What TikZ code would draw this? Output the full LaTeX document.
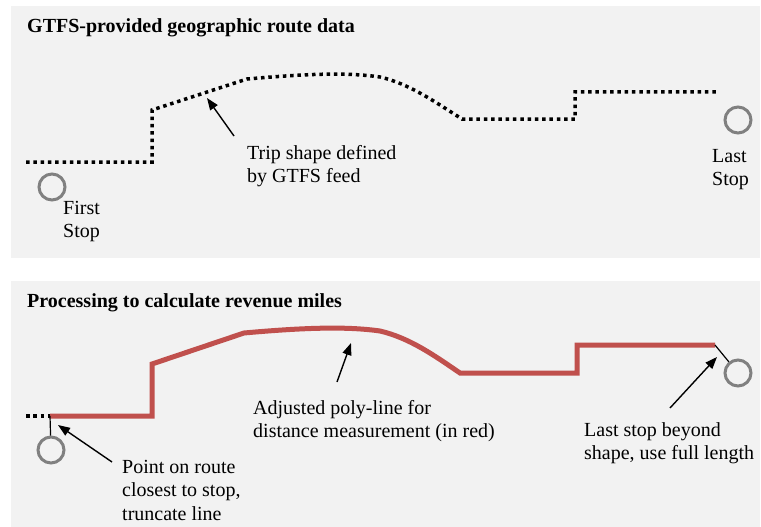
\documentclass[tikz,border=0pt]{standalone}
\usepackage{fontspec}
\setmainfont{Liberation Serif}
\usepackage{tikz}
\usetikzlibrary{arrows.meta}
\definecolor{panelgray}{HTML}{F2F2F2}
\definecolor{routered}{HTML}{C0504D}
\definecolor{stopgray}{HTML}{808080}
\tikzstyle{panel} = [fill=panelgray, draw=none]
\tikzstyle{paneltitle} = [font=\fontsize{20}{23}\selectfont\bfseries, anchor=base west, inner sep=0pt]
\tikzstyle{note} = [font=\fontsize{20}{23.5}\selectfont, align=left, anchor=north west, inner sep=0pt]
\tikzstyle{stopmark} = [circle, draw=stopgray, line width=3pt, minimum size=26pt, inner sep=0pt]
\tikzstyle{tripline} = [line width=3.5pt, dash pattern=on 3.5pt off 3.8pt]
\tikzstyle{adjusted} = [line width=5pt, draw=routered]
\tikzstyle{arrow} = [line width=1.4pt, -{Triangle[length=12pt,width=9pt]}]

\begin{document}
\begin{tikzpicture}[x=1pt, y=-1pt]
  \useasboundingbox (0,0) rectangle (761,527);

  % upper panel: route as given by the feed
  \fill [panel] (11,6) rectangle (760,258);
  \node (title-gtfs) [paneltitle] at (27,33) {GTFS-provided geographic route data};
  \draw [tripline] (26,162) -- (152,162) -- (152,110) -- (247,79)
        .. controls (305,74) and (345,72) .. (380,77)
        .. controls (410,84) and (435,102) .. (462,119)
        -- (575,119) -- (575,92) -- (716,92);
  \node (first-stop) [stopmark] at (52,187) {};
  \node (last-stop) [stopmark] at (738,120) {};
  \node (first-label) [note] at (63,201) {First\\Stop};
  \node (last-label) [note] at (712,149) {Last\\Stop};
  \node (trip-label) [note] at (247,145) {Trip shape defined\\by GTFS feed};
  \coordinate (trip-tail) at (234,136);
  \coordinate (trip-tip) at (207,98);
  \draw [arrow] (trip-tail) -- (trip-tip);

  % lower panel: adjusted line
  \fill [panel] (11,281) rectangle (760,527);
  \node (title-proc) [paneltitle] at (27,307) {Processing to calculate revenue miles};
  \coordinate (cut-start) at (50,416);
  \coordinate (cut-end) at (715,345);
  \draw [tripline] (26,416) -- (cut-start);
  \draw [adjusted] (cut-start) -- (152,416) -- (152,364) -- (244,333)
        .. controls (300,328) and (345,326) .. (380,331)
        .. controls (410,338) and (435,356) .. (460,373)
        -- (577,373) -- (577,345) -- (cut-end);
  \node (first-stop2) [stopmark] at (51,450) {};
  \node (last-stop2) [stopmark] at (738,373) {};
  \draw [line width=1.2pt] (cut-start) -- (first-stop2);
  \draw [line width=1.2pt] (cut-end) -- (last-stop2);

  \node (point-label) [note] at (122,460) {Point on route\\closest to stop,\\truncate line};
  \node (poly-label) [note] at (253,400) {Adjusted poly-line for\\distance measurement (in red)};
  \node (beyond-label) [note] at (584,422) {Last stop beyond\\shape, use full length};

  \coordinate (point-tail) at (112,462);
  \coordinate (point-tip) at (58,425);
  \coordinate (poly-tail) at (337,382);
  \coordinate (poly-tip) at (351,343);
  \coordinate (beyond-tail) at (670,408);
  \coordinate (beyond-tip) at (717,357);
  \draw [arrow] (point-tail) -- (point-tip);
  \draw [arrow] (poly-tail) -- (poly-tip);
  \draw [arrow] (beyond-tail) -- (beyond-tip);
\end{tikzpicture}
\end{document}
